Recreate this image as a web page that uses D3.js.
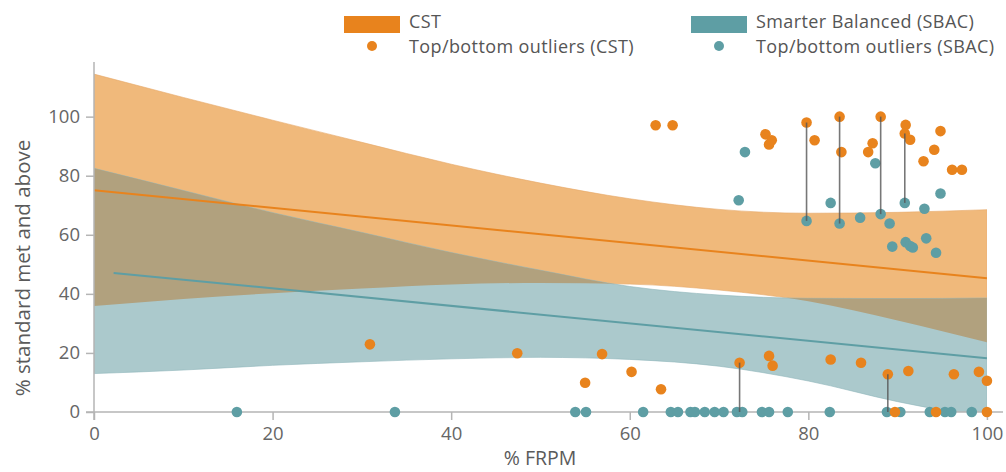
<!DOCTYPE html>
<html>
<head>
<meta charset="utf-8">
<script src="https://cdn.jsdelivr.net/npm/d3@7"></script>
<style>
  body { margin: 0; background: #fff; }
  text { font-family: "Open Sans", Lato, sans-serif; }
</style>
</head>
<body>
<div id="chart"></div>
<script>
// confidence bands, read at every 10 points of FRPM
const bandX = [0, 10, 20, 30, 40, 50, 60, 70, 80, 90, 100];
const cstUpper = [114.4, 106.5, 98.8, 91.3, 83.9, 77.5, 72.2, 68.6, 67.3, 67.6, 68.5];
const cstLower = [35.9, 38.3, 40.2, 41.8, 43.2, 43.7, 43.3, 41.3, 37.5, 31.0, 23.6];
const sbacUpper = [82.5, 75.0, 67.5, 60.8, 54.0, 48.0, 42.5, 39.6, 38.5, 38.4, 38.6];
const sbacLower = [13.0, 14.2, 15.8, 17.0, 18.0, 18.5, 17.8, 15.5, 10.5, 3.5, -2.0];

// fitted lines
const cstLineX = [0, 100];
const cstLineY = [75.1, 45.3];
const sbacLineX = [2.2, 100];
const sbacLineY = [47.1, 18.2];

// outlier schools [% FRPM, % met]
const cstPoints = [
  [30.9, 22.9], [47.4, 19.9], [55.0, 9.9], [56.9, 19.6], [60.2, 13.6], [62.9, 97.1],
  [63.5, 7.7], [64.8, 97.1], [72.3, 16.7], [75.2, 94.0], [75.6, 90.6], [75.9, 92.0],
  [75.6, 19.0], [76.0, 15.7], [79.8, 98.0], [80.7, 92.0], [82.5, 17.8], [83.5, 100],
  [83.7, 88.0], [85.9, 16.7], [86.7, 88.0], [87.2, 91.0], [88.1, 100], [88.9, 12.8],
  [90.9, 97.2], [90.8, 94.3], [91.4, 92.2], [91.2, 13.9], [92.9, 84.9], [94.1, 88.8],
  [94.8, 95.1], [96.1, 82.0], [97.2, 82.0], [96.3, 12.8], [99.1, 13.6], [100, 10.6],
  [89.7, 0], [94.3, 0], [100, 0]
];
const sbacPoints = [
  [72.2, 71.7], [72.9, 88.0], [79.8, 64.7], [82.5, 70.8], [83.5, 63.8], [85.8, 65.8],
  [87.5, 84.2], [88.1, 67.0], [89.1, 63.8], [89.4, 56.0], [90.8, 70.8], [90.9, 57.5],
  [91.4, 56.2], [91.7, 55.7], [93.0, 68.8], [93.2, 58.8], [94.3, 53.9], [94.8, 74.0],
  [16.0, 0], [33.7, 0], [53.9, 0], [55.1, 0], [61.5, 0], [64.6, 0], [65.4, 0], [66.8, 0],
  [67.3, 0], [68.4, 0], [69.5, 0], [70.5, 0], [72.0, 0], [72.6, 0], [74.8, 0], [75.6, 0],
  [77.7, 0], [82.4, 0], [88.8, 0], [90.3, 0], [93.6, 0], [95.3, 0], [96.0, 0], [98.3, 0]
];
// same school in both tests [% FRPM, CST, SBAC]
const pairs = [
  [72.3, 16.7, 0], [79.8, 98.0, 64.7], [83.5, 100, 63.8],
  [88.1, 100, 67.0], [88.9, 12.8, 0], [90.8, 94.3, 70.8]
];

const xTicks = [0, 20, 40, 60, 80, 100];
const yTicks = [0, 20, 40, 60, 80, 100];

const width = 1006;
const height = 472;
const ORANGE = "#e8831d";
const TEAL = "#5e9ea4";

const svg = d3.select("#chart").append("svg")
  .attr("width", width)
  .attr("height", height);

const x = d3.scaleLinear().domain([0, 101.8]).range([94, 1003]);
const y = d3.scaleLinear().domain([0, 118.5]).range([412, 62]);

const bandArea = (hi, lo) => d3.area()
  .x((_, i) => x(bandX[i]))
  .y0((_, i) => y(lo[i]))
  .y1((_, i) => y(hi[i]))
  .curve(d3.curveMonotoneX)(bandX);

const defs = svg.append("defs");
defs.append("clipPath").attr("id", "plot")
  .append("rect").attr("x", x(0)).attr("y", 0)
  .attr("width", x(100) - x(0)).attr("height", y(0));
defs.append("clipPath").attr("id", "cstBand")
  .append("path").attr("d", bandArea(cstUpper, cstLower));

const bands = svg.append("g").attr("clip-path", "url(#plot)");
bands.append("path")
  .attr("d", bandArea(cstUpper, cstLower))
  .attr("fill", "#f0b97b")
  .attr("stroke", "#e5a868").attr("stroke-width", 0.6);
bands.append("path")
  .attr("d", bandArea(sbacUpper, sbacLower))
  .attr("fill", "#abc9cc")
  .attr("stroke", "#8fb6ba").attr("stroke-width", 0.6);
bands.append("g").attr("clip-path", "url(#cstBand)")
  .append("path")
  .attr("d", bandArea(sbacUpper, sbacLower))
  .attr("fill", "#b1a17e");

const line = (xs, ys) => d3.line()
  .x((_, i) => x(xs[i]))
  .y((_, i) => y(ys[i]))(xs);

svg.append("path").attr("d", line(cstLineX, cstLineY))
  .attr("fill", "none").attr("stroke", ORANGE).attr("stroke-width", 2);
svg.append("path").attr("d", line(sbacLineX, sbacLineY))
  .attr("fill", "none").attr("stroke", TEAL).attr("stroke-width", 2);

// axes
const xAxis = svg.append("g")
  .attr("transform", `translate(0,${y(0)})`)
  .call(d3.axisBottom(x).tickValues(xTicks).tickSize(8).tickSizeOuter(0).tickPadding(7));
const yAxis = svg.append("g")
  .attr("transform", `translate(${x(0)},0)`)
  .call(d3.axisLeft(y).tickValues(yTicks).tickSize(8).tickSizeOuter(0).tickPadding(6));

[xAxis, yAxis].forEach((g) => {
  g.select(".domain").attr("stroke", "#b5b5b5").attr("stroke-width", 1.5);
  g.selectAll(".tick line").attr("stroke", "#b5b5b5").attr("stroke-width", 1.5);
  g.selectAll(".tick text")
    .attr("fill", "#666")
    .style("font-size", "18.5px")
    .style("font-family", "'Open Sans', sans-serif");
});
xAxis.select(".domain").attr("d", `M86,0H${x(101.8)}`);
yAxis.select(".domain").attr("d", `M0,${y(118.5)}V${y(0) + 8}`);

svg.append("text")
  .attr("x", 540).attr("y", 465)
  .attr("text-anchor", "middle")
  .attr("fill", "#5a5a5a")
  .style("font-size", "19.5px")
  .text("% FRPM");

svg.append("text")
  .attr("transform", `translate(30,268) rotate(-90)`)
  .attr("text-anchor", "middle")
  .attr("fill", "#5a5a5a")
  .style("font-size", "20.5px")
  .text("% standard met and above");

// points
svg.append("g").selectAll("circle")
  .data(sbacPoints).join("circle")
  .attr("cx", (d) => x(d[0])).attr("cy", (d) => y(d[1]))
  .attr("r", 5.3).attr("fill", TEAL);

svg.append("g").selectAll("circle")
  .data(cstPoints).join("circle")
  .attr("cx", (d) => x(d[0])).attr("cy", (d) => y(d[1]))
  .attr("r", 5.3).attr("fill", ORANGE);

svg.append("g").selectAll("line")
  .data(pairs).join("line")
  .attr("x1", (d) => x(d[0])).attr("x2", (d) => x(d[0]))
  .attr("y1", (d) => y(d[1])).attr("y2", (d) => y(d[2]))
  .attr("stroke", "#555").attr("stroke-opacity", 0.8).attr("stroke-width", 1.6);

// legend
const legend = [
  { x: 344, label: "CST", dot: "Top/bottom outliers (CST)", color: ORANGE },
  { x: 691, label: "Smarter Balanced (SBAC)", dot: "Top/bottom outliers (SBAC)", color: TEAL }
];
const lg = svg.append("g").selectAll("g").data(legend).join("g")
  .attr("transform", (d) => `translate(${d.x},0)`);
lg.append("rect")
  .attr("x", 0).attr("y", 16).attr("width", 56).attr("height", 17)
  .attr("fill", (d) => d.color);
lg.append("circle")
  .attr("cx", 28).attr("cy", 46).attr("r", 5)
  .attr("fill", (d) => d.color);
lg.append("text")
  .attr("x", 65).attr("y", 28)
  .attr("fill", "#555").style("font-size", "18px").style("letter-spacing", "0.4px")
  .text((d) => d.label);
lg.append("text")
  .attr("x", 65).attr("y", 53)
  .attr("fill", "#555").style("font-size", "18px").style("letter-spacing", "0.4px")
  .text((d) => d.dot);
</script>
</body>
</html>
